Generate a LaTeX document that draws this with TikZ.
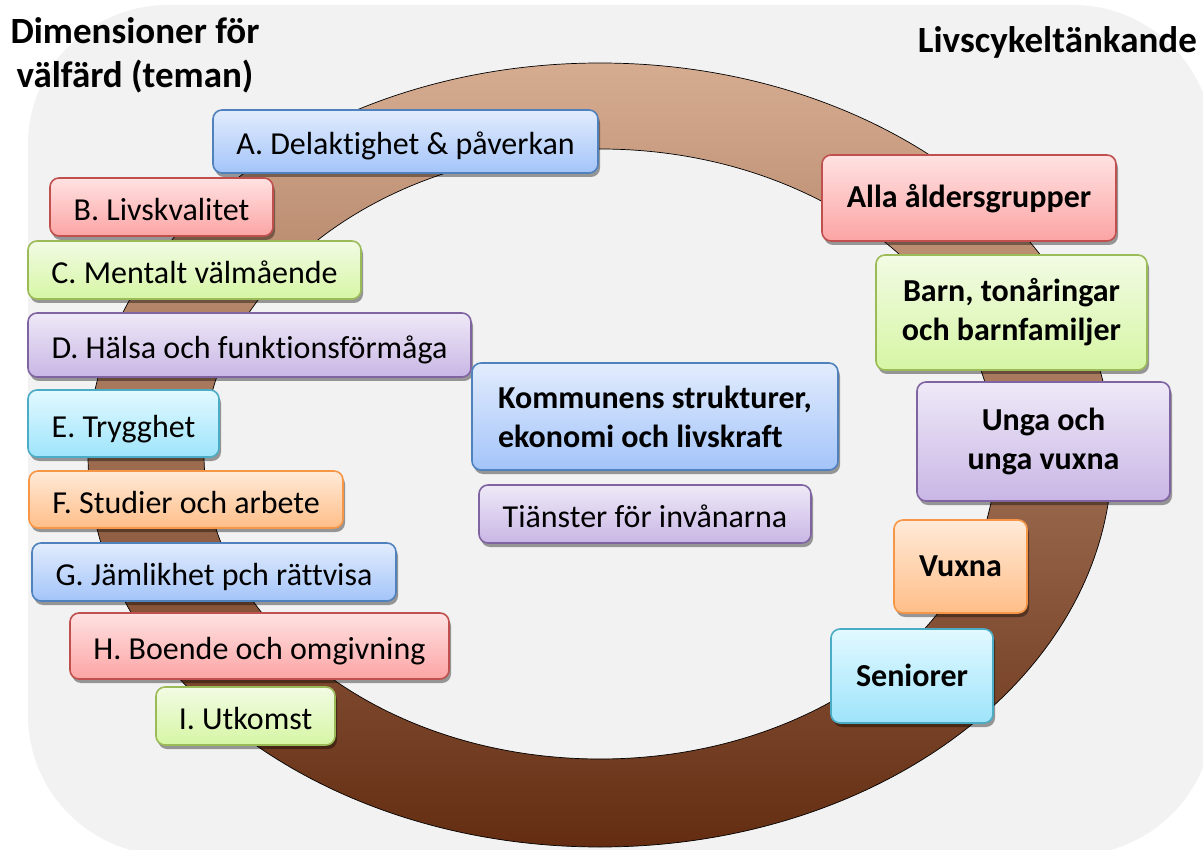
\documentclass[tikz,border=0pt]{standalone}
\usepackage{fontspec}
\setmainfont{Carlito}[RawFeature={-liga}]
\usetikzlibrary{shadows}
\definecolor{bg}{RGB}{242,242,242}
\definecolor{ringtop}{RGB}{214,172,144}
\definecolor{ringmid}{RGB}{194,122,72}
\definecolor{ringbot}{RGB}{100,45,18}
\definecolor{bluedk}{RGB}{79,129,189}
\definecolor{bluetop}{RGB}{226,236,253}
\definecolor{bluebot}{RGB}{163,196,249}
\definecolor{reddk}{RGB}{192,80,77}
\definecolor{redtop}{RGB}{255,226,226}
\definecolor{redbot}{RGB}{252,164,164}
\definecolor{greendk}{RGB}{155,187,89}
\definecolor{greentop}{RGB}{242,251,228}
\definecolor{greenbot}{RGB}{214,246,164}
\definecolor{purpledk}{RGB}{128,100,162}
\definecolor{purpletop}{RGB}{238,233,247}
\definecolor{purplebot}{RGB}{201,182,229}
\definecolor{cyandk}{RGB}{75,172,198}
\definecolor{cyantop}{RGB}{226,249,255}
\definecolor{cyanbot}{RGB}{158,228,251}
\definecolor{orangedk}{RGB}{247,150,70}
\definecolor{orangetop}{RGB}{255,234,216}
\definecolor{orangebot}{RGB}{255,190,136}
\tikzset{
  tbox/.style={rounded corners=9pt, line width=1.6pt, inner sep=0pt,
    drop shadow={shadow xshift=2pt, shadow yshift=-4pt, fill=black, opacity=0.38}},
  plain/.style={tbox, font=\fontsize{32}{40}\selectfont, text height=27pt, text depth=0pt},
  boldone/.style={tbox, font=\fontsize{32}{40}\selectfont\bfseries, text height=20pt, text depth=0pt},
  boldtwo/.style={tbox, font=\fontsize{32}{39}\selectfont\bfseries},
  bluebox/.style={draw=bluedk, top color=bluetop, bottom color=bluebot},
  redbox/.style={draw=reddk, top color=redtop, bottom color=redbot},
  greenbox/.style={draw=greendk, top color=greentop, bottom color=greenbot},
  purplebox/.style={draw=purpledk, top color=purpletop, bottom color=purplebot},
  cyanbox/.style={draw=cyandk, top color=cyantop, bottom color=cyanbot},
  orangebox/.style={draw=orangedk, top color=orangetop, bottom color=orangebot},
  title/.style={anchor=base, font=\fontsize{37}{44}\selectfont\bfseries, inner sep=0pt},
}
\begin{document}
\begin{tikzpicture}[x=1pt,y=-1pt]
\useasboundingbox (0,0) rectangle (1203,850);
\clip (0,0) rectangle (1203,850);
\fill[white] (0,0) rectangle (1203,850);
\path[fill=bg, rounded corners=140pt] (28,5) rectangle (1213,855);
% ring
\path[even odd rule, draw=black, line width=0.7pt, top color=ringtop, middle color=ringmid, bottom color=ringbot]
  (600,455) ellipse [x radius=512pt, y radius=392pt]
  (600,454) ellipse [x radius=396pt, y radius=305pt];
% left boxes
\node[plain, bluebox, minimum width=385pt, minimum height=63pt] (A) at (405.5,141.5) {A. Delaktighet \& påverkan};
\node[plain, redbox, minimum width=223pt, minimum height=58pt] (B) at (161.5,207) {B. Livskvalitet};
\node[plain, greenbox, minimum width=333pt, minimum height=58pt] (C) at (194.5,270) {C. Mentalt välmående};
\node[plain, purplebox, minimum width=443pt, minimum height=64pt] (D) at (249.5,345) {D. Hälsa och funktionsförmåga};
\node[plain, cyanbox, minimum width=191pt, minimum height=67pt] (E) at (123.5,423.5) {E. Trygghet};
\node[plain, orangebox, minimum width=314pt, minimum height=57pt] (F) at (186,499.5) {F. Studier och arbete};
\node[plain, bluebox, minimum width=364pt, minimum height=58pt] (G) at (214,572) {G. Jämlikhet pch rättvisa};
\node[plain, redbox, minimum width=379pt, minimum height=66pt] (H) at (259.5,646) {H. Boende och omgivning};
\node[plain, greenbox, minimum width=179pt, minimum height=58pt] (I) at (245.5,716) {I. Utkomst};
% centre boxes
\node[boldtwo, bluebox, align=left, minimum width=366pt, minimum height=107pt] (K) at (655,416.5) {Kommunens strukturer,\\ekonomi och livskraft};
\node[plain, purplebox, minimum width=332pt, minimum height=58pt] (T) at (645,514) {Tiänster för invånarna};
% right boxes
\node[boldone, redbox, minimum width=294pt, minimum height=86pt] (R1) at (969,198) {Alla åldersgrupper};
\node[boldtwo, greenbox, align=center, minimum width=271pt, minimum height=115pt] (R2) at (1011.5,312.5) {Barn, tonåringar\\och barnfamiljer};
\node[boldtwo, purplebox, align=center, minimum width=253pt, minimum height=119pt] (R3) at (1043.5,441.5) {Unga och\\unga vuxna};
\node[boldone, orangebox, minimum width=133pt, minimum height=93pt] (R4) at (960.5,566.5) {Vuxna};
\node[boldone, cyanbox, minimum width=162pt, minimum height=94pt] (R5) at (912,676) {Seniorer};
% titles
\node[title] (t1) at (135,44) {Dimensioner för};
\node[title] (t2) at (135,88) {välfärd (teman)};
\node[title, anchor=base east] (t3) at (1197,53) {Livscykeltänkande};
\end{tikzpicture}
\end{document}
